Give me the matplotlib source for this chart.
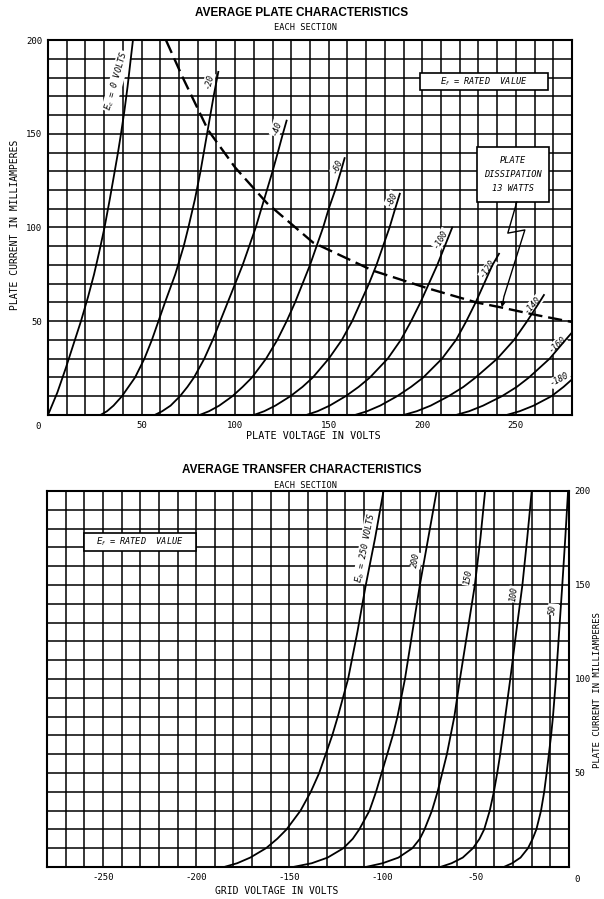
import numpy as np
import matplotlib
matplotlib.use("Agg")
import matplotlib.pyplot as plt
from matplotlib.patches import Rectangle

# --- top chart: plate characteristics (plate volts, plate mA), one list per grid voltage
grid_volts = [0, -20, -40, -60, -80, -100, -120, -140, -160, -180]
plate_v = [
    [0, 5, 9.5, 13.7, 17.6, 21.4, 24.6, 27.6, 30.2, 33, 35.3, 37.4, 39, 40.8, 42.5, 44, 45.4],
    [28, 31.5, 35, 39.5, 43, 46.5, 49, 51.5, 55.5, 59, 62.5, 68, 72.5, 75, 78.5, 81.5, 85, 88.5, 91],
    [57, 61, 65.5, 70.5, 74.5, 78, 83.5, 88, 92, 96, 100, 104, 107.5, 111, 114, 117, 120, 122.8, 125.5, 127.5],
    [81, 86, 91.5, 98.5, 104, 109, 116.5, 122.5, 127.5, 132, 136, 140, 143.5, 147, 150, 153.5, 156.5, 158.5],
    [110, 115.5, 121.5, 129.5, 136, 141.5, 150, 157, 162.5, 167, 171.5, 175.5, 179, 182.5, 185.5, 188],
    [138, 144, 150.5, 159, 166, 172, 181.5, 188.5, 194, 199, 203.5, 208, 212, 216],
    [164, 170.5, 177.5, 186.5, 194, 200.5, 210.5, 218, 223.5, 228.5, 233, 237.5, 241],
    [190, 197, 204.5, 214, 222, 228.5, 240, 249, 256, 262.5, 265],
    [218, 225, 232.5, 242.5, 250.5, 257, 268, 276.5, 280],
    [245, 252, 259.5, 269, 275.5, 280],
]
plate_ma = [
    [0, 12, 25, 38, 50, 63, 75, 88, 100, 115, 128, 140, 150, 162, 175, 188, 200],
    [0, 2, 5, 10, 15, 20, 25, 30, 40, 50, 60, 75, 90, 100, 115, 130, 150, 170, 183],
    [0, 2, 5, 10, 15, 20, 30, 40, 50, 60, 70, 80, 90, 100, 110, 120, 130, 140, 150, 157],
    [0, 2, 5, 10, 15, 20, 30, 40, 50, 60, 70, 80, 90, 100, 110, 120, 130, 137],
    [0, 2, 5, 10, 15, 20, 30, 40, 50, 60, 70, 80, 90, 100, 110, 118],
    [0, 2, 5, 10, 15, 20, 30, 40, 50, 60, 70, 80, 90, 100],
    [0, 2, 5, 10, 15, 20, 30, 40, 50, 60, 70, 80, 86],
    [0, 2, 5, 10, 15, 20, 30, 40, 50, 60, 64],
    [0, 2, 5, 10, 15, 20, 30, 40, 44],
    [0, 2, 5, 10, 15, 19],
]
label_txt = ["$E_c$ = 0 VOLTS", "-20", "-40", "-60", "-80", "-100", "-120", "-140", "-160", "-180"]
label_v = [36.5, 86, 122, 154.5, 183.5, 210, 235, 259, 272, 273.5]
label_ma = [178, 178, 153, 133, 115, 94, 78, 58.5, 37.5, 19]
label_rot = [74, 76, 72, 68, 64, 60, 55, 48, 42, 28]

# plate dissipation 13 watts (dashed)
diss_v = [63, 72, 85.5, 100, 117, 141.6, 173.6, 202.5, 229, 241.5, 260, 280]
diss_ma = [200, 180, 152, 132, 113, 92, 77, 67.7, 60, 57.5, 53.5, 49.6]

# --- bottom chart: transfer characteristics (grid volts, plate mA), one list per plate voltage
plate_volts = [250, 200, 150, 100, 50]
tr_ma = [0, 2, 5, 10, 15, 20, 30, 40, 50, 60, 70, 80, 100, 125, 150, 175, 200]
tr_grid = [
    [-185, -178, -171, -162.5, -156.5, -151.5, -144, -138.5, -134, -130.5, -127, -124, -118.5, -113.5, -109, -104, -99.5],
    [-148, -138, -129.5, -121, -116, -112.5, -107, -103.5, -100.5, -97.5, -94.5, -92, -88, -84, -80, -75.5, -71],
    [-109, -100, -91.5, -84, -80, -77.5, -73.5, -70.5, -68, -65.5, -63.5, -61.5, -58.5, -54.5, -50.5, -47.5, -45],
    [-69, -63, -57, -51.5, -48, -45.5, -42.5, -40.3, -38.5, -36.9, -35.5, -34.2, -31.5, -28.3, -25, -22.4, -20],
    [-35, -30.5, -26, -22, -19.5, -17.5, -15, -13.3, -12, -10.8, -9.6, -8.6, -7, -5.3, -3.6, -2, -0.5],
]
tr_label_txt = ["$E_b$ = 250 VOLTS", "200", "150", "100", "50"]
tr_label_v = [-109, -82, -54, -29.5, -8.5]
tr_label_ma = [170, 163, 154, 145, 137]
tr_label_rot = [79, 80, 81, 83, 85]

W, H = 604, 899
fig = plt.figure(figsize=(W / 100, H / 100), dpi=100)
fig.patch.set_facecolor("white")

MONO = "DejaVu Sans Mono"


def frac(x0, y0, x1, y1):
    return [x0 / W, 1 - y1 / H, (x1 - x0) / W, (y1 - y0) / H]


def paper(ax, xlim):
    ax.set_xlim(*xlim)
    ax.set_ylim(0, 200)
    for x in np.arange(xlim[0], xlim[1] + 0.1, 10):
        ax.axvline(x, color="black", lw=1.1, zorder=1)
    for y in np.arange(0, 201, 10):
        ax.axhline(y, color="black", lw=1.1, zorder=1)
    ax.tick_params(length=0, labelsize=6.5, pad=4)
    for s in ax.spines.values():
        s.set_linewidth(1.5)


def ticks(ax, xt, yt):
    ax.set_xticks(xt)
    ax.set_yticks(yt)
    ax.set_xticklabels([str(v) for v in xt], family=MONO, fontsize=6.5)
    ax.set_yticklabels([str(v) for v in yt], family=MONO, fontsize=6.5)


def boxed(ax, x0, x1, y0, y1, txt, fs=6.2, ls=1.2):
    ax.add_patch(Rectangle((x0, y0), x1 - x0, y1 - y0, fc="white", ec="black",
                           lw=1.2, zorder=3))
    ax.text((x0 + x1) / 2, (y0 + y1) / 2, txt, ha="center", va="center",
            fontsize=fs, family=MONO, style="italic", linespacing=ls, zorder=4)


lbl_box = dict(fc="white", ec="none", pad=0.6)

# ---------------- top chart
ax1 = fig.add_axes(frac(48, 40, 572, 415))
paper(ax1, (0, 280))
ticks(ax1, [50, 100, 150, 200, 250], [50, 100, 150, 200])
ax1.text(-4, -4, "0", ha="right", va="top", fontsize=6.5, family=MONO)
for v, i in zip(plate_v, plate_ma):
    ax1.plot(v, i, color="black", lw=1.3, zorder=2.6)
for t, x, y, r in zip(label_txt, label_v, label_ma, label_rot):
    ax1.text(x, y, t, rotation=r, ha="center", va="center", fontsize=6,
             family=MONO, style="italic", bbox=lbl_box, zorder=2.4)
ax1.plot(diss_v, diss_ma, color="black", lw=1.7, ls=(0, (6, 2.5)), zorder=2.6)
boxed(ax1, 198.7, 267, 173.3, 182.4, "$E_f$ = RATED  VALUE")
boxed(ax1, 229.2, 267.6, 113.6, 142.9, "PLATE\nDISSIPATION\n13 WATTS", ls=1.7)
zz_v = [250.5, 245.7, 254.8, 243.6]
zz_ma = [113.6, 97, 98.7, 63]
ax1.plot(zz_v, zz_ma, color="black", lw=1.0, zorder=3)
ax1.annotate("", xy=(242.3, 56), xytext=(243.8, 64),
             arrowprops=dict(arrowstyle="-|>", color="black", lw=1.0,
                             mutation_scale=7), zorder=3)
fig.text(313 / W, 1 - 436 / H, "PLATE VOLTAGE IN VOLTS", ha="center",
         va="center", fontsize=7.3, family=MONO)
fig.text(15 / W, 1 - 225 / H, "PLATE CURRENT IN MILLIAMPERES", ha="center",
         va="center", rotation=90, fontsize=7, family=MONO)
fig.text(302 / W, 1 - 13 / H, "AVERAGE PLATE CHARACTERISTICS", ha="center",
         va="center", fontsize=8.5, weight="bold", family="Liberation Sans")
fig.text(305 / W, 1 - 28 / H, "EACH SECTION", ha="center", va="center",
         fontsize=6.2, family=MONO)

# ---------------- bottom chart
ax2 = fig.add_axes(frac(47, 491, 569, 867))
paper(ax2, (-280, 0))
ticks(ax2, [-250, -200, -150, -100, -50], [50, 100, 150, 200])
ax2.yaxis.tick_right()
ax2.text(3, -4, "0", ha="left", va="top", fontsize=6.5, family=MONO)
for v in tr_grid:
    ax2.plot(v, tr_ma, color="black", lw=1.3, zorder=2.6)
for t, x, y, r in zip(tr_label_txt, tr_label_v, tr_label_ma, tr_label_rot):
    ax2.text(x, y, t, rotation=r, ha="center", va="center", fontsize=6,
             family=MONO, style="italic", bbox=lbl_box, zorder=2.4)
boxed(ax2, -260, -200, 168, 177.7, "$E_f$ = RATED  VALUE")
fig.text(277 / W, 1 - 891 / H, "GRID VOLTAGE IN VOLTS", ha="center",
         va="center", fontsize=7, family=MONO)
fig.text(597 / W, 1 - 690 / H, "PLATE CURRENT IN MILLIAMPERES", ha="center",
         va="center", rotation=90, fontsize=6.5, family=MONO)
fig.text(302 / W, 1 - 470 / H, "AVERAGE TRANSFER CHARACTERISTICS", ha="center",
         va="center", fontsize=8.5, weight="bold", family="Liberation Sans")
fig.text(305 / W, 1 - 486 / H, "EACH SECTION", ha="center", va="center",
         fontsize=6.2, family=MONO)

fig.savefig("out.png", dpi=100, facecolor="white")
